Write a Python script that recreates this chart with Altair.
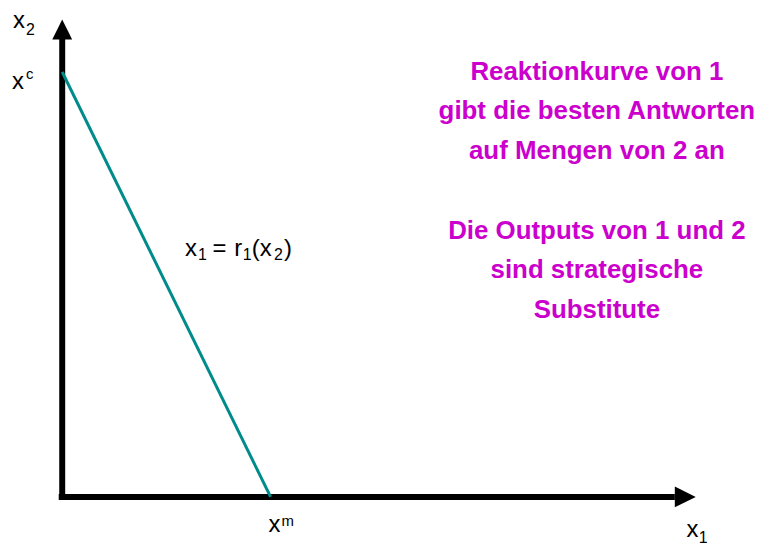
import altair as alt
import pandas as pd

# ---- data (normalised units: monopoly output x^m = 1, Cournot intercept x^c = 1)
curve_x1 = [0.0, 1.0]      # x1 along reaction curve
curve_x2 = [1.0, 0.0]      # x2 along reaction curve
axis_x_end = [3.04]        # x1-axis arrow tip
axis_y_end = [1.122]       # x2-axis arrow tip

info_lines_1 = ["Reaktionkurve von 1", "gibt die besten Antworten", "auf Mengen von 2 an"]
info_lines_2 = ["Die Outputs von 1 und 2", "sind strategische", "Substitute"]

# ---- pixel layout of the picture (image coords)
W, H = 754, 538
ORIG_X, ORIG_Y = 62.5, 498.0
PX_PER_X = 272 - ORIG_X
PX_PER_Y = ORIG_Y - 70

xdom = [(8 - ORIG_X) / PX_PER_X, (8 + W - ORIG_X) / PX_PER_X]
ydom = [(ORIG_Y - (8 + H)) / PX_PER_Y, (ORIG_Y - 8) / PX_PER_Y]
xs = alt.Scale(domain=xdom, nice=False, zero=False)
ys = alt.Scale(domain=ydom, nice=False, zero=False)

FONT = "Liberation Sans"
TEAL = "#008B8B"
MAG = "#CC00CC"

one = pd.DataFrame({"d": [0]})

def X(field):
    return alt.X(field, type="quantitative", scale=xs, axis=None)

def Y(field):
    return alt.Y(field, type="quantitative", scale=ys, axis=None)

# axes
ax_len_x = axis_x_end[0] - 21 / PX_PER_X
ax_len_y = axis_y_end[0] - 19 / PX_PER_Y
xaxis = alt.Chart(pd.DataFrame({"a": [-3.5 / PX_PER_X], "b": [ax_len_x], "y": [0.0]})).mark_rule(
    color="black", strokeWidth=6).encode(x=X("a:Q"), x2="b:Q", y=Y("y:Q"))
yaxis = alt.Chart(pd.DataFrame({"a": [-3 / PX_PER_Y], "b": [ax_len_y], "x": [0.0]})).mark_rule(
    color="black", strokeWidth=6).encode(y=Y("a:Q"), y2="b:Q", x=X("x:Q"))

xhead = alt.Chart(pd.DataFrame({"x": [axis_x_end[0] - 10.5 / PX_PER_X], "y": [0.0]})).mark_point(
    shape="M-1,-1L1,0L-1,1Z", filled=True, color="black", opacity=1, size=21 * 21, strokeWidth=0
).encode(x=X("x:Q"), y=Y("y:Q"))
yhead = alt.Chart(pd.DataFrame({"x": [0.0], "y": [axis_y_end[0] - 9.5 / PX_PER_Y]})).mark_point(
    shape="M-1,1L0,-1L1,1Z", filled=True, color="black", opacity=1, size=20 * 20, strokeWidth=0
).encode(x=X("x:Q"), y=Y("y:Q"))

curve = alt.Chart(pd.DataFrame({"x1": curve_x1, "x2": curve_x2})).mark_line(
    color=TEAL, strokeWidth=3).encode(x=X("x1:Q"), y=Y("x2:Q"), order="x1:Q")


def txt(s, left, base, size, color="black", bold=False):
    return alt.Chart(one).mark_text(
        text=s, align="left", baseline="alphabetic", font=FONT, fontSize=size,
        color=color, fontWeight="bold" if bold else "normal"
    ).encode(x=alt.value(left - 8), y=alt.value(base - 8))

labels = [
    # x2 axis label
    txt("x", 13, 26, 24), txt("2", 26, 33, 16),
    # x^c
    txt("x", 12, 87, 24), txt("c", 26, 77, 15),
    # x^m
    txt("x", 270, 532, 24), txt("m", 283, 526, 15),
    # x1 axis label
    txt("x", 690, 537, 24), txt("1", 702.5, 543, 16),
    # x1 = r1(x2)
    txt("x", 186, 255, 24), txt("1", 199, 259, 16),
    txt("=", 213.5, 255, 24), txt("r", 235.5, 255, 24), txt("1", 244, 259, 16),
    txt("(x", 253, 255, 24), txt("2", 275.5, 259, 16),
    txt(")", 285.5, 255, 24),
]


def info_block(lines, base):
    return alt.Chart(one).mark_text(
        text=lines, align="center", baseline="alphabetic", font=FONT, fontSize=26,
        fontWeight="bold", color=MAG, lineHeight=40
    ).encode(x=alt.value(600 - 8), y=alt.value(base - 8))

info1 = info_block(info_lines_1, 77.5)
info2 = info_block(info_lines_2, 237.5)

chart = alt.layer(xaxis, yaxis, xhead, yhead, curve, *labels, info1, info2).properties(
    width=W, height=H, padding=0,
    autosize=alt.AutoSizeParams(type="fit", contains="padding"),
).configure_view(strokeWidth=0)

chart.save("out.html", embed_options={"renderer": "svg", "actions": False})
